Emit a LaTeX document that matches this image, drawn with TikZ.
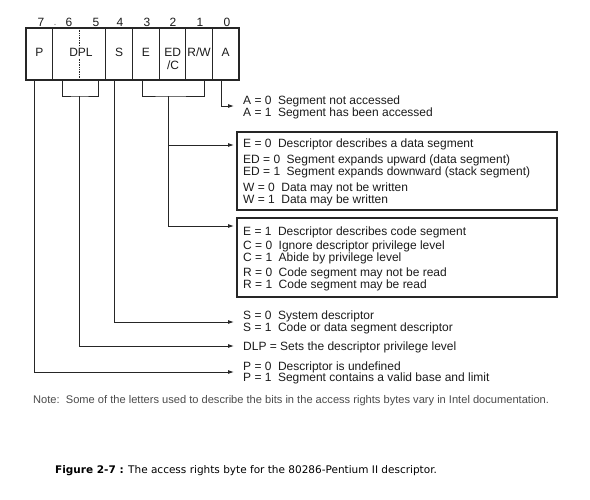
\documentclass[tikz,border=0pt]{standalone}
\usepackage{fontspec}
\setmainfont{Liberation Sans}
\newfontfamily\capfont{DejaVu Sans}
\usetikzlibrary{arrows.meta}
\definecolor{tcol}{RGB}{28,28,28}
\definecolor{lcol}{RGB}{38,38,38}
\definecolor{ncol}{RGB}{75,75,75}
\newcommand\kvgap{\hspace{6.5pt}}
\newcommand\rowtxt[4]{%
  \node[txt] (#1) at (243,{#2+4.3}) {#3\kvgap #4};}
\begin{document}
\begin{tikzpicture}[x=1pt,y=-1pt,
  txt/.style={inner sep=0pt, anchor=base west, text=tcol, font=\fontsize{12}{12}\selectfont},
  lab/.style={inner sep=0pt, anchor=base, text=tcol, font=\fontsize{12}{12}\selectfont},
  cell/.style={draw=lcol, line width=1.1pt, minimum width=26.625pt, minimum height=52pt, inner sep=0pt, outer sep=0pt, anchor=north west},
  panel/.style={draw=lcol, line width=1.2pt, inner sep=0pt, outer sep=0pt, anchor=north west},
  ln/.style={draw=lcol, line width=0.9pt},
  arr/.style={draw=lcol, line width=0.9pt, -{Latex[length=6pt,width=4pt]}},
  note/.style={inner sep=0pt, anchor=base west, text=ncol, font=\fontsize{11.1}{12}\selectfont},
  capt/.style={inner sep=0pt, anchor=base west, text=black, font=\capfont\fontsize{10.5}{12}\selectfont}]
\useasboundingbox[fill=white] (0,0) rectangle (590,499);
% bit numbers
\foreach \b/\x in {7/41,6/69,5/96,4/120,3/147,2/173,1/200,0/227}
  \node[lab] (b\b) at (\x,26.4) {\b};
\fill[lcol!60] (55,24.5) circle (0.6);
% cells
\node[cell] (cP) at (26,28) {};
\node[cell, minimum width=53.25pt] (cDPL) at (52.625,28) {};
\node[cell] (cS) at (105.875,28) {};
\node[cell] (cE) at (132.5,28) {};
\node[cell] (cED) at (159.125,28) {};
\node[cell] (cRW) at (185.75,28) {};
\node[cell] (cA) at (212.375,28) {};
\draw[lcol, line width=0.8pt, dash pattern=on 0.8pt off 0.9pt] (cDPL.north) -- (cDPL.south);
% cell labels
\node[lab] (lP) at (39.3,56.5) {P};
\node[lab, fill=white, inner sep=1.2pt] (lDPL) at (81,56.5) {DPL};
\node[lab] (lS) at (119.2,56.5) {S};
\node[lab] (lE) at (145.8,56.5) {E};
\node[lab] (lED) at (172.6,56.5) {ED};
\node[lab] (lC) at (173,69.3) {/C};
\node[lab] (lRW) at (199.1,56.5) {R/W};
\node[lab] (lA) at (225.7,56.5) {A};
% connector coordinates
\coordinate (pTop) at (34,80);
\coordinate (sTop) at (114,80);
\coordinate (aTop) at (221,80);
\coordinate (dL) at (62,80);
\coordinate (dR) at (98,80);
\coordinate (dM) at (79,96);
\coordinate (eL) at (142,80);
\coordinate (eR) at (204,80);
\coordinate (eM) at (168,96);
\coordinate (aA) at (234,106);
\coordinate (aE0) at (234,145);
\coordinate (aE1) at (234,226);
\coordinate (aS) at (234,322);
\coordinate (aD) at (234,346);
\coordinate (aP) at (234,372);
% brackets
\draw[ln] (dL) |- (dM) -| (dR);
\draw[ln] (eL) |- (eM) -| (eR);
% connectors
\draw[arr] (aTop) |- (aA);
\draw[arr] (eM) |- (aE0);
\draw[arr] (eM) |- (aE1);
\draw[arr] (sTop) |- (aS);
\draw[arr] (dM) |- (aD);
\draw[arr] (pTop) |- (aP);
% panels
\node[panel, minimum width=320pt, minimum height=78pt] (boxD) at (237,132) {};
\node[panel, minimum width=320pt, minimum height=79pt] (boxC) at (237,218) {};
% texts
\rowtxt{a0}{100}{A = 0}{Segment not accessed}
\rowtxt{a1}{112}{A = 1}{Segment has been accessed}
\rowtxt{e0}{143}{E = 0}{Descriptor describes a data segment}
\rowtxt{ed0}{159.5}{ED = 0}{Segment expands upward (data segment)}
\rowtxt{ed1}{171}{ED = 1}{Segment expands downward (stack segment)}
\rowtxt{w0}{187.5}{W = 0}{Data may not be written}
\rowtxt{w1}{199}{W = 1}{Data may be written}
\rowtxt{e1}{231}{E = 1}{Descriptor describes code segment}
\rowtxt{c0}{245.5}{C = 0}{Ignore descriptor privilege level}
\rowtxt{c1}{257}{C = 1}{Abide by privilege level}
\rowtxt{r0}{272.5}{R = 0}{Code segment may not be read}
\rowtxt{r1}{284}{R = 1}{Code segment may be read}
\rowtxt{s0}{315}{S = 0}{System descriptor}
\rowtxt{s1}{327}{S = 1}{Code or data segment descriptor}
\node[txt] (dlp) at (243,350.3) {DLP = Sets the descriptor privilege level};
\rowtxt{p0}{366}{P = 0}{Descriptor is undefined}
\rowtxt{p1}{377}{P = 1}{Segment contains a valid base and limit}
\node[note] (note) at (33,403) {Note:\ \ Some of the letters used to describe the bits in the access rights bytes vary in Intel documentation.};
\node[capt] (cap) at (55,473.8) {\textbf{Figure 2-7 :} The access rights byte for the 80286-Pentium II descriptor.};
\end{tikzpicture}
\end{document}
